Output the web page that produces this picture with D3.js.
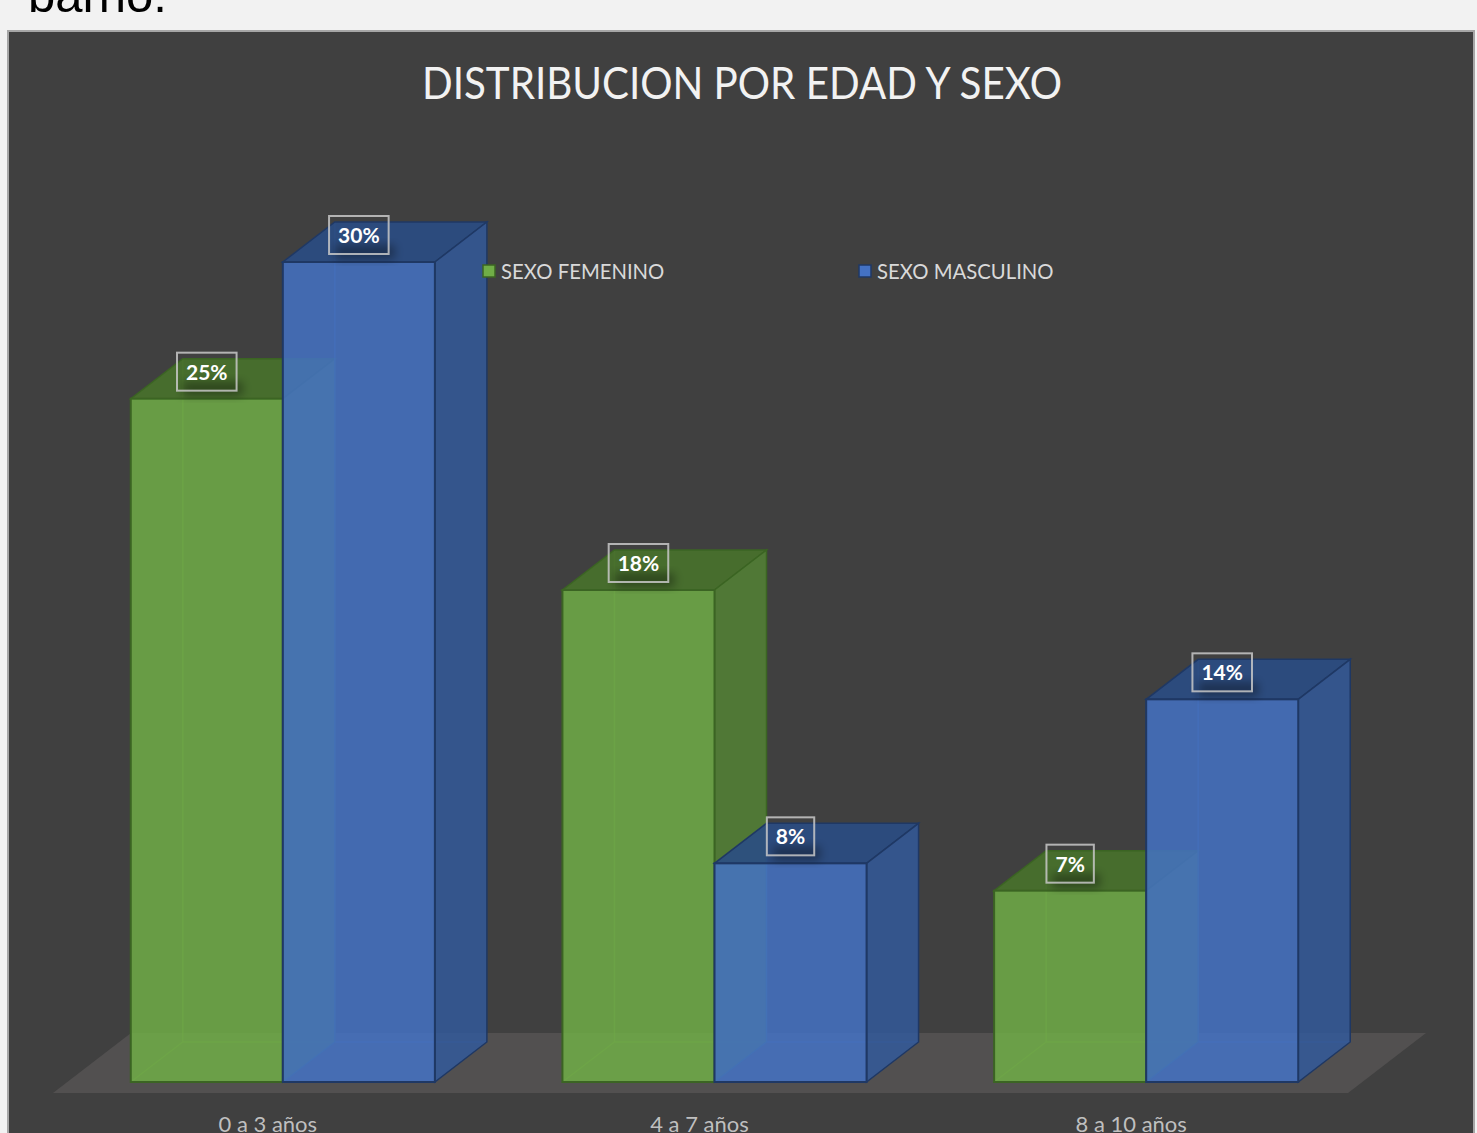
<!DOCTYPE html>
<html>
<head>
<meta charset="utf-8">
<script src="https://cdn.jsdelivr.net/npm/d3@7"></script>
<style>
  body { margin: 0; background: #f2f2f2; }
</style>
</head>
<body>
<div id="chart"></div>
<script>
// chart values
var categories = ["0 a 3 años", "4 a 7 años", "8 a 10 años"];
var series = ["SEXO FEMENINO", "SEXO MASCULINO"];
var femenino = [25, 18, 7];
var masculino = [30, 8, 14];
var max_value = 30;

var width = 1477, height = 1133;

// face colours for each series (front, side, top, edge)
var colors = {
    "SEXO FEMENINO": {front: "#70AD47", side: "#548235", top: "#48722b", edge: "#3b6423"},
    "SEXO MASCULINO": {front: "#4472C4", side: "#32599a", top: "#2a4c84", edge: "#1f3864"}
};

var depth = {dx: 52, dy: -40};

var svg = d3.select("#chart")
    .append("svg")
        .attr("width", width)
        .attr("height", height)
        .style("display", "block");

// text of the page above the chart
svg.append("text")
    .attr("x", 28)
    .attr("y", 12)
    .style("font-family", "Liberation Sans, Arial, sans-serif")
    .style("font-size", "49px")
    .style("fill", "#000")
    .text("barrio.");

// chart frame
svg.append("rect")
    .attr("x", 8)
    .attr("y", 31)
    .attr("width", 1466)
    .attr("height", height)
    .style("fill", "#404040")
    .style("stroke", "#a6a6a6")
    .style("stroke-width", "2px");

var defs = svg.append("defs");
defs.append("filter")
    .attr("id", "blur")
    .attr("x", "-50%").attr("y", "-50%")
    .attr("width", "200%").attr("height", "200%")
    .append("feGaussianBlur")
        .attr("stdDeviation", 5);

// title, squeezed to the narrow width of the original font
svg.append("text")
    .attr("x", 742)
    .attr("y", 99)
    .attr("text-anchor", "middle")
    .attr("textLength", 640)
    .attr("lengthAdjust", "spacingAndGlyphs")
    .style("font-family", "Lato, 'Open Sans', sans-serif")
    .style("font-size", "45px")
    .style("fill", "#f2f2f2")
    .text("DISTRIBUCION POR EDAD Y SEXO");

// scales
var x = d3.scaleBand()
    .domain(categories)
    .range([67, 1362])
    .paddingInner(0.2955)
    .paddingOuter(0.1477);

var x_inner = d3.scaleBand()
    .domain(series)
    .range([0, x.bandwidth()])
    .padding(0);

var y = d3.scaleLinear()
    .domain([0, max_value])
    .range([1082, 262]);

var line = d3.line();
function poly(points){ return line(points) + "Z"; }

// floor of the 3d plot
var x_start = x.range()[0], x_end = x.range()[1];
svg.append("path")
    .attr("class", "floor")
    .attr("d", poly([
        [x_start - 14, y(0) + 11], [x_end - 14, y(0) + 11],
        [x_end + 64, y(0) - 49], [x_start + 64, y(0) - 49]
    ]))
    .style("fill", "#525050");

// rows of data, one per bar
var bars = [];
categories.forEach(function(c, i){
    bars.push({cat: c, serie: series[0], value: femenino[i]});
    bars.push({cat: c, serie: series[1], value: masculino[i]});
});

var bar_groups = svg.selectAll(".bar3d")
    .data(bars)
    .enter()
    .append("g")
        .attr("class", "bar3d");

bar_groups.each(function(d){
    var g = d3.select(this);
    var col = colors[d.serie];
    var x0 = x(d.cat) + x_inner(d.serie);
    var x1 = x0 + x_inner.bandwidth();
    var y0 = y(0), y1 = y(d.value);
    var dx = depth.dx, dy = depth.dy;

    // hidden back edges, seen through the faces
    g.append("path")
        .attr("d", line([[x0, y0], [x0 + dx, y0 + dy], [x1 + dx, y0 + dy]]) +
                   line([[x0 + dx, y0 + dy], [x0 + dx, y1 + dy]]))
        .style("fill", "none")
        .style("stroke", col.front)
        .style("stroke-opacity", 0.4)
        .style("stroke-width", "1.5px");

    g.append("path")
        .attr("d", poly([[x0, y1], [x1, y1], [x1 + dx, y1 + dy], [x0 + dx, y1 + dy]]))
        .style("fill", col.top)
        .style("fill-opacity", 0.9)
        .style("stroke", col.edge)
        .style("stroke-width", "1.5px");

    g.append("path")
        .attr("d", poly([[x1, y1], [x1 + dx, y1 + dy], [x1 + dx, y0 + dy], [x1, y0]]))
        .style("fill", col.side)
        .style("fill-opacity", 0.85)
        .style("stroke", col.edge)
        .style("stroke-width", "1.5px");

    g.append("rect")
        .attr("x", x0)
        .attr("y", y1)
        .attr("width", x1 - x0)
        .attr("height", y0 - y1)
        .style("fill", col.front)
        .style("fill-opacity", 0.85)
        .style("stroke", col.edge)
        .style("stroke-width", "2px");
});

// value labels with a box
bar_groups.each(function(d){
    var g = d3.select(this);
    var cx = x(d.cat) + x_inner(d.serie) + x_inner.bandwidth() / 2;
    var cy = y(d.value) - 27;

    var shadow = g.append("rect")
        .attr("filter", "url(#blur)")
        .style("fill", "#000")
        .style("fill-opacity", 0.35);

    var box = g.append("rect")
        .style("fill", "none")
        .style("stroke", "#c8c8c8")
        .style("stroke-opacity", 0.85)
        .style("stroke-width", "2px");

    var label = g.append("text")
        .attr("x", cx)
        .attr("y", cy + 8)
        .attr("text-anchor", "middle")
        .style("font-family", "Lato, 'Open Sans', sans-serif")
        .style("font-weight", "bold")
        .style("font-size", "21px")
        .style("fill", "#ffffff")
        .text(d.value + "%");

    var w = label.node().getComputedTextLength() + 18;
    box.attr("x", cx - w / 2)
        .attr("y", cy - 19)
        .attr("width", w)
        .attr("height", 38);
    shadow.attr("x", cx - w / 2 + 6)
        .attr("y", cy + 10)
        .attr("width", w)
        .attr("height", 14);
});

// category labels under the floor
svg.selectAll(".cat_label")
    .data(categories)
    .enter()
    .append("text")
        .attr("class", "cat_label")
        .attr("x", function(d){ return x(d) + x.bandwidth() / 2 - 15; })
        .attr("y", 1132)
        .attr("text-anchor", "middle")
        .style("font-family", "Lato, 'Open Sans', sans-serif")
        .style("font-size", "22px")
        .style("fill", "#bfbfbf")
        .text(function(d){ return d; });

// legend
var legend_x = [483, 859];
var legend = svg.selectAll(".legend")
    .data(series)
    .enter()
    .append("g")
        .attr("class", "legend")
        .attr("transform", function(d, i){ return "translate(" + legend_x[i] + ",265)"; });

legend.append("rect")
    .attr("width", 12)
    .attr("height", 12)
    .style("fill", function(d){ return colors[d].front; })
    .style("stroke", function(d){ return colors[d].edge; })
    .style("stroke-width", "1.5px");

legend.append("text")
    .attr("x", 18)
    .attr("y", 14)
    .style("font-family", "Lato, 'Open Sans', sans-serif")
    .style("font-size", "20.3px")
    .style("fill", "#d9d9d9")
    .text(function(d){ return d; });
</script>
</body>
</html>
